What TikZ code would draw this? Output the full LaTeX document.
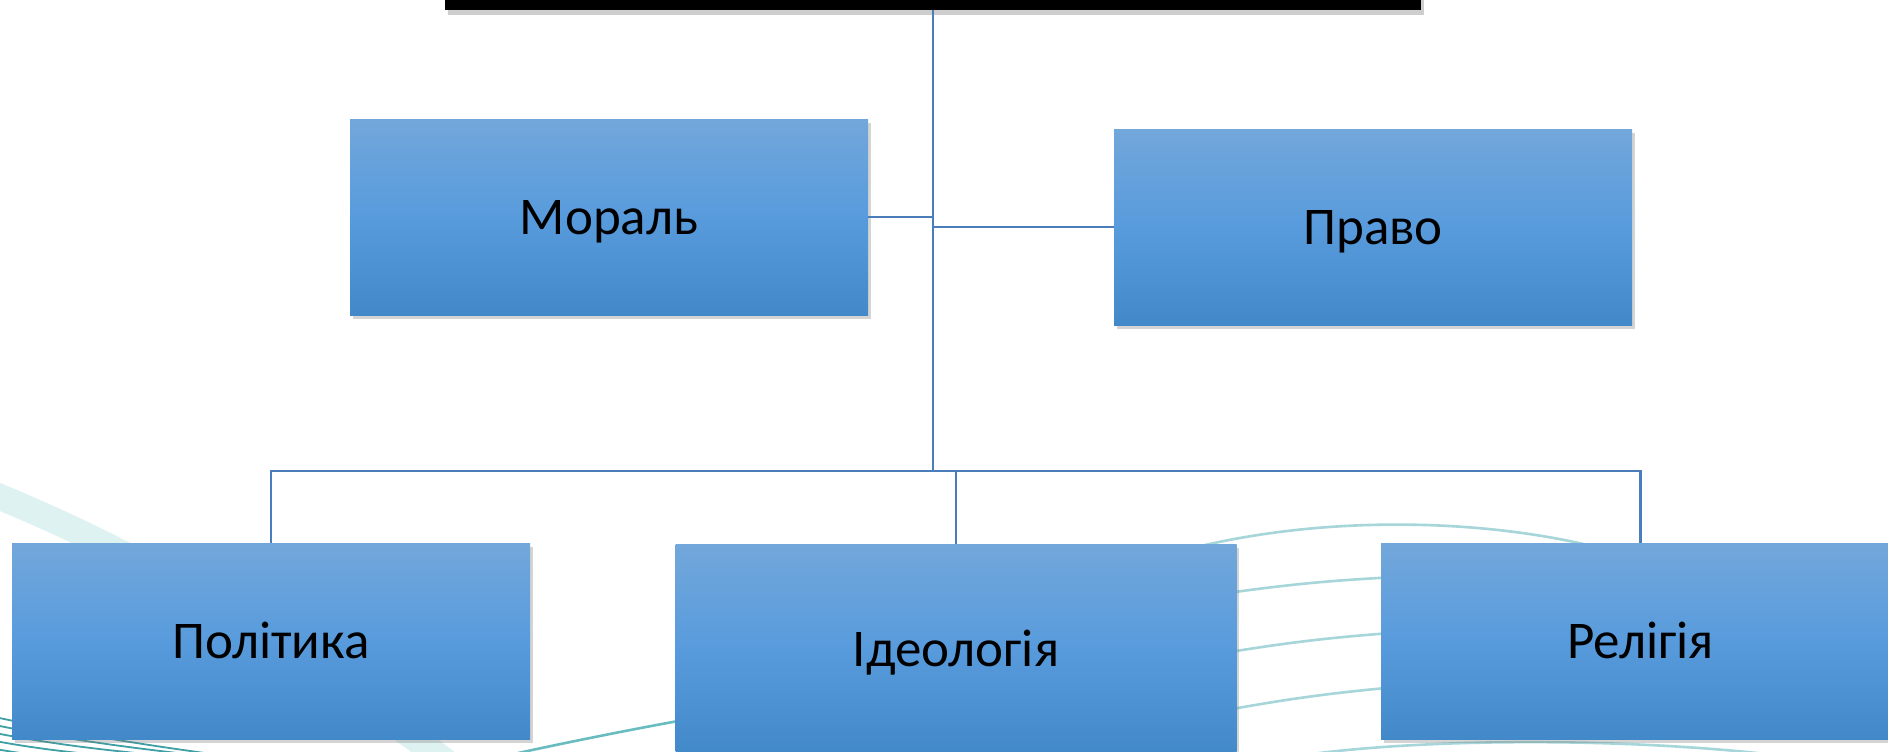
\documentclass[tikz,border=0pt]{standalone}
\usepackage{fontspec}
\setmainfont{Carlito}
\usetikzlibrary{shadows}
\definecolor{boxtop}{RGB}{114,167,219}
\definecolor{boxmid}{RGB}{88,155,220}
\definecolor{boxbot}{RGB}{66,137,201}
\definecolor{linkblue}{RGB}{74,126,187}
\definecolor{waveline}{RGB}{166,214,218}
\definecolor{wavemid}{RGB}{105,188,192}
\definecolor{wavedark}{RGB}{62,160,164}
\definecolor{waveband}{RGB}{222,242,242}

\begin{document}
\begin{tikzpicture}[x=0.5pt, y=-0.5pt,
                    main node/.style={rectangle,inner sep=0pt,minimum width=259pt,minimum height=98pt,
                      top color=boxtop,bottom color=boxbot,middle color=boxmid,
                      drop shadow={shadow xshift=1.4pt,shadow yshift=-1.8pt,fill=black!55,opacity=0.3},
                      text height=17pt,text depth=0pt,font=\fontsize{26.5}{31}\selectfont},
                    top box/.style={rectangle,inner sep=0pt,minimum width=487.75pt,minimum height=35pt,fill=black,
                      drop shadow={shadow xshift=1.4pt,shadow yshift=-2.4pt,fill=black!55,opacity=0.35}},
                    link/.style={draw=linkblue,line width=1.1pt},
                    wave/.style={draw=waveline,line width=1.3pt}]

  \useasboundingbox[fill=white] (0,0) rectangle (1888,751);

  \begin{scope}
    \clip (0,0) rectangle (1888,751);
    \draw[waveband,line width=13pt] (-30,485) .. controls (150,555) and (300,650) .. (470,780);
    \foreach \k in {0,...,4}
      \draw[wavedark,line width=0.9pt] (-10,716+\k*8) .. controls (120,744+\k*7) and (250,760) .. (380,774);
    \draw[wavemid,line width=1.3pt] (420,775) .. controls (520,752) and (600,735) .. (700,717);
    \draw[wave] (1150,560) .. controls (1290,515) and (1470,515) .. (1600,548);
    \draw[wave] (1200,597) to[bend left=3] (1420,576);
    \draw[wave] (1200,657) to[bend left=3] (1420,631);
    \draw[wave] (1200,715) to[bend left=3] (1420,685);
    \draw[wave] (1290,757) .. controls (1420,737) and (1640,737) .. (1800,758);
  \end{scope}

  \node[top box] (top) at (933,-25) {};
  \node[main node] (moral) at (609,217) {Мораль};
  \node[main node] (pravo) at (1373,227) {Право};
  \node[main node] (polit) at (271,641.5) {Політика};
  \node[main node,minimum width=280.5pt,minimum height=105pt] (ideol) at (956,649) {Ідеологія};
  \node[main node,minimum width=259.5pt] (relig) at (1640.5,641.5) {Релігія};

  \coordinate (bus) at (933,471);

  \draw[link] (top.south) -- (bus);
  \draw[link] (moral.east) -- (moral.east -| top.south);
  \draw[link] (pravo.west) -- (pravo.west -| top.south);
  \draw[link] (polit.north) |- (bus) -| (relig.north);
  \draw[link] (ideol.north) -- (ideol.north |- bus);

\end{tikzpicture}
\end{document}
